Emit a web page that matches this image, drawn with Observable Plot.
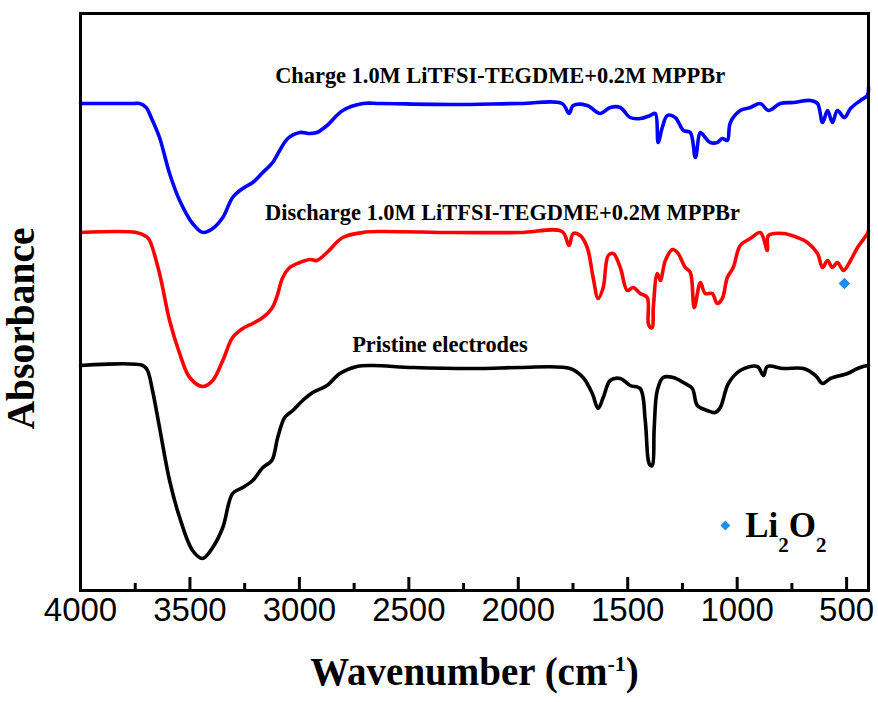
<!DOCTYPE html>
<html><head><meta charset="utf-8">
<script src="https://cdn.jsdelivr.net/npm/d3@7"></script>
<script src="https://cdn.jsdelivr.net/npm/@observablehq/plot@0.6"></script>
<style>html,body{margin:0;padding:0;background:#fff}svg{display:block}</style>
</head><body><div id="chart"></div>
<script>
// Wavenumber (cm-1) and relative absorbance (a.u., stacked offsets)
const chargeWn = [4000,3760,3730,3700,3677,3639,3593,3547,3488,3442,3396,3350,3305,3259,3213,3167,3122,3090,3053,2998,2952,2920,2874,2802,2710,2632,2300,1992,1800,1768,1749,1685,1626,1580,1534,1489,1443,1397,1374,1361,1342,1319,1283,1246,1214,1191,1168,1146,1123,1091,1068,1045,1031,986,940,894,857,803,743,665,633,610,587,565,542,510,482,437,405,400];
const chargeAbs = [487,487,487,483,473,453,417,390,367,358,362,373,393,402,408,418,428,440,452,458,457,458,465,480,487,487,486,487,487,477,485,485,477,483,483,473,472,475,477,448,463,475,473,460,458,433,458,453,448,448,452,450,468,480,483,487,480,487,488,490,487,468,480,468,480,473,482,490,495,503];

const dischargeWn = [4000,3744,3700,3684,3639,3593,3547,3501,3442,3396,3350,3305,3259,3213,3167,3126,3104,3076,3044,2998,2952,2920,2874,2802,2710,2632,2300,1992,1800,1768,1749,1717,1685,1658,1635,1612,1589,1566,1534,1502,1475,1443,1411,1406,1397,1388,1383,1365,1351,1328,1296,1273,1237,1214,1196,1168,1146,1114,1091,1068,1045,1018,986,940,894,862,857,789,725,679,633,610,587,565,542,514,482,450,405,400];
const dischargeAbs = [358,358,354,350,317,270,237,213,204,210,230,253,262,267,273,282,293,313,323,328,331,330,338,353,358,359,358,358,359,345,357,355,343,313,292,303,335,337,323,300,303,297,293,267,263,263,283,317,310,330,341,338,323,318,283,308,297,297,287,292,313,323,345,352,358,340,355,357,353,348,337,323,330,323,328,320,330,343,357,360];

const pristineWn = [4000,3716,3694,3671,3639,3593,3547,3488,3442,3396,3350,3305,3259,3213,3167,3126,3099,3067,3030,2985,2939,2874,2815,2737,2664,2481,2175,1992,1763,1704,1662,1635,1612,1580,1534,1489,1443,1420,1406,1397,1388,1379,1365,1338,1292,1246,1205,1182,1137,1100,1077,1040,986,908,880,862,789,697,642,610,574,496,450,405,400];
const pristineAbs = [225,225,220,200,163,110,73,40,32,43,63,97,103,110,123,130,153,173,180,190,198,205,217,224,225,223,222,223,222,213,197,182,193,210,212,205,202,170,130,125,125,163,200,213,213,208,202,185,180,178,183,207,220,224,215,224,222,222,215,207,212,217,222,225,225];

const li2o2Wn = [510];
const li2o2Abs = [307];

const xTicksMajor = [4000,3500,3000,2500,2000,1500,1000,500];
const xTicksMinor = [3750,3250,2750,2250,1750,1250,750];
const seriesLabels = ["Charge 1.0M LiTFSI-TEGDME+0.2M MPPBr","Discharge 1.0M LiTFSI-TEGDME+0.2M MPPBr","Pristine electrodes"];
const xTitle = "Wavenumber (cm-1)";
const yTitle = "Absorbance";
const legendLabel = "Li2O2";

const rows = (wn, ab) => wn.map((w, i) => ({wn: w, a: ab[i]}));
const serif = "'Liberation Serif','Times New Roman',serif";
const sans = "'Liberation Sans',Arial,sans-serif";
const lineOpts = {x: "wn", y: "a", strokeWidth: 3.6, strokeLinejoin: "round", curve: "catmull-rom"};

const chart = Plot.plot({
  width: 878, height: 702,
  marginLeft: 80, marginRight: 10, marginTop: 13, marginBottom: 112,
  x: {domain: [4000, 400], axis: null},
  y: {domain: [0, 577], axis: null},
  style: {background: "#fff", overflow: "visible"},
  marks: [
    Plot.line(rows(pristineWn, pristineAbs), {...lineOpts, stroke: "#000000"}),
    Plot.line(rows(dischargeWn, dischargeAbs), {...lineOpts, stroke: "#ff0000"}),
    Plot.line(rows(chargeWn, chargeAbs), {...lineOpts, stroke: "#0000ff"}),
    Plot.dot(rows(li2o2Wn, li2o2Abs), {x: "wn", y: "a", symbol: "diamond2", r: 5.2, fill: "#1e8cf0", stroke: "none"}),
    Plot.text([seriesLabels[0]], {x: 2083, y: 515, fontSize: 22.4, fontWeight: "bold", fontFamily: serif}),
    Plot.text([seriesLabels[1]], {x: 2072, y: 378, fontSize: 22.4, fontWeight: "bold", fontFamily: serif}),
    Plot.text([seriesLabels[2]], {x: 2358, y: 246, fontSize: 22.4, fontWeight: "bold", fontFamily: serif}),
    Plot.dot([legendLabel], {x: 1054, y: 65, symbol: "diamond2", r: 4.4, fill: "#1e8cf0", stroke: "none"}),
    Plot.text([legendLabel], {x: 963, y: 65, textAnchor: "start", fontSize: 35, fontWeight: "bold", fontFamily: serif}),
    Plot.ruleX(xTicksMajor, {x: d => d, y1: 0, y2: 13, stroke: "#000", strokeWidth: 3}),
    Plot.ruleX(xTicksMinor, {x: d => d, y1: 0, y2: 7, stroke: "#000", strokeWidth: 3}),
    Plot.text(xTicksMajor, {x: d => d, text: d => String(d), frameAnchor: "bottom", dy: 30, fontSize: 33, fontFamily: sans}),
    Plot.text([xTitle], {frameAnchor: "bottom", dy: 94, fontSize: 39, fontWeight: "bold", fontFamily: serif}),
    Plot.text([yTitle], {x: 4268, y: 262, rotate: -90, fontSize: 39.5, fontWeight: "bold", fontFamily: serif}),
    Plot.frame({stroke: "#000", strokeWidth: 3})
  ]
});
document.getElementById("chart").appendChild(chart);

// rich text: superscript / subscripts
const svg = d3.select(chart);
svg.selectAll("text").filter(function () { return this.textContent === xTitle; }).each(function () {
  const t = d3.select(this); t.text(null);
  t.append("tspan").text("Wavenumber (cm");
  t.append("tspan").attr("dy", "-14").attr("font-size", "22px").text("-1");
  t.append("tspan").attr("dy", "14").text(")");
});
svg.selectAll("text").filter(function () { return this.textContent === legendLabel; }).each(function () {
  const t = d3.select(this); t.text(null);
  t.append("tspan").text("Li");
  t.append("tspan").attr("dy", "15").attr("font-size", "21px").text("2");
  t.append("tspan").attr("dy", "-15").text("O");
  t.append("tspan").attr("dy", "15").attr("font-size", "21px").text("2");
});
</script></body></html>
